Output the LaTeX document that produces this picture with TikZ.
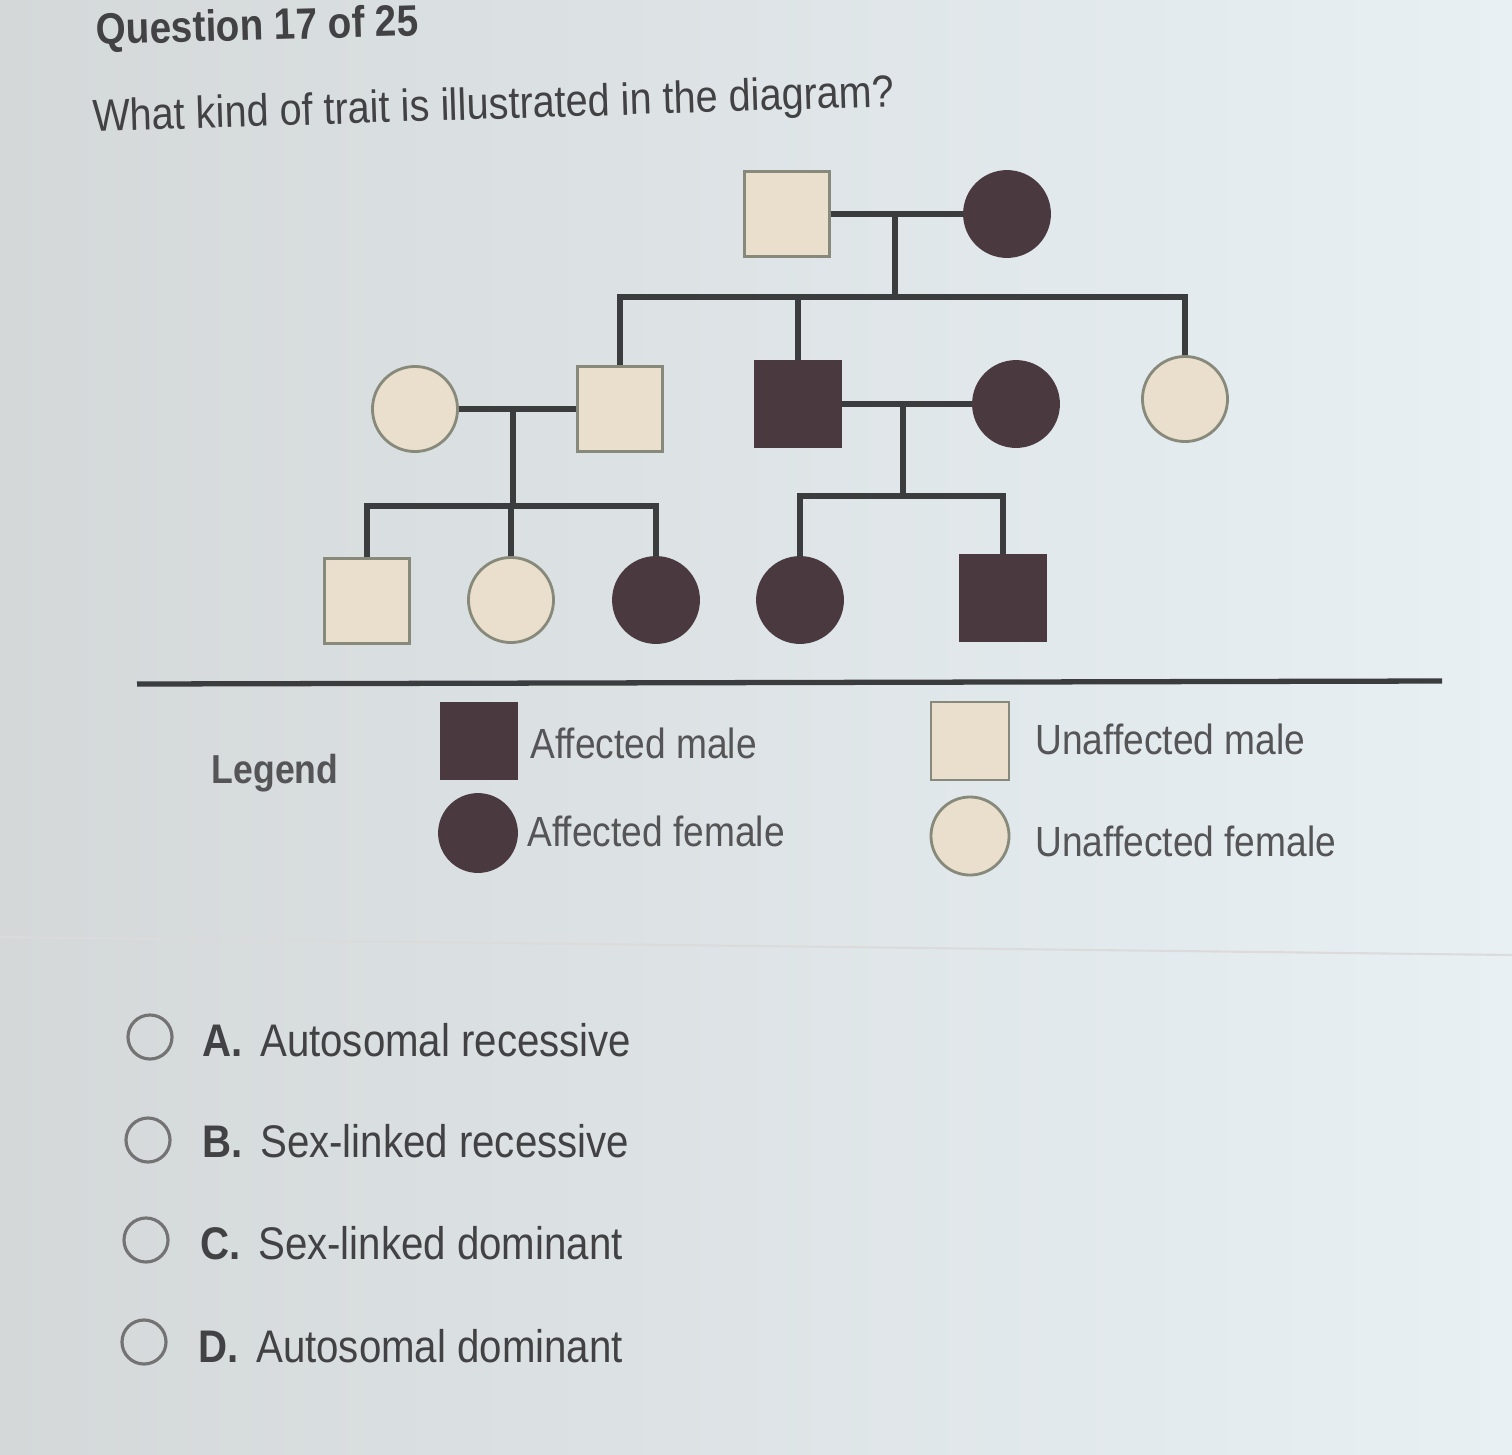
\documentclass[tikz,border=0pt]{standalone}
\usepackage{fontspec}
\setmainfont{Liberation Sans}[FakeStretch=0.88]
\usetikzlibrary{positioning,calc}

\definecolor{bgleft}{RGB}{212,216,217}
\definecolor{bgright}{RGB}{232,240,244}
\definecolor{affect}{RGB}{74,58,64}
\definecolor{unaff}{RGB}{234,222,204}
\definecolor{rim}{RGB}{135,137,122}
\definecolor{pline}{RGB}{58,60,62}
\definecolor{ink}{RGB}{66,66,68}

\begin{document}
\begin{tikzpicture}[x=0.01cm, y=-0.01cm,
    male/.style={rectangle, inner sep=0pt, minimum size=#1, line width=0.8pt},
    male/.default=0.85cm,
    female/.style={circle, inner sep=0pt, minimum size=#1, line width=0.8pt},
    female/.default=0.85cm,
    aff/.style={fill=affect, draw=affect},
    unaff/.style={fill=unaff, draw=rim},
    link/.style={draw=pline, line width=1.6pt},
    legtext/.style={anchor=west, text=ink!90, font=\fontsize{12}{14}\selectfont},
    answer/.style={anchor=west, text=ink, font=\fontsize{13}{15}\selectfont},
    radio/.style={circle, draw=black!55, line width=0.9pt, minimum size=0.44cm, inner sep=0pt}]
            % Background
            \useasboundingbox (0,0) rectangle (1512,1454);
            \shade[left color=bgleft, right color=bgright] (0,0) rectangle (1512,1454);
            
            % Question
            \node[anchor=base west, rotate=1.6, text=ink, font=\bfseries\fontsize{12.5}{15}\selectfont] (qnum) at (84,45) {Question 17 of 25};
            \node[anchor=base west, rotate=1.8, text=ink, font=\fontsize{12.8}{15}\selectfont] (qtext) at (81,132) {What kind of trait is illustrated in the diagram?};
            
            % Generation I
            \node[male, unaff] (gpa) at (787,214) {};
            \node[female, aff] (gma) at (1007,214) {};
            % Generation II
            \node[female, unaff] (mom1) at (415,409) {};
            \node[male, unaff] (dad1) at (620,409) {};
            \node[male, aff] (uncle) at (798,404) {};
            \node[female, aff] (wife2) at (1016,404) {};
            \node[female, unaff] (aunt) at (1185,399) {};
            % Generation III
            \node[male, unaff] (c1) at (367,601) {};
            \node[female, unaff] (c2) at (511,600) {};
            \node[female, aff] (c3) at (656,600) {};
            \node[female, aff] (c4) at (800,600) {};
            \node[male, aff] (c5) at (1003,598) {};
            
            % Couples and sibships
            \coordinate (mar1) at (895,214);
            \coordinate (sib1) at (895,297);
            \coordinate (mar2) at (513,409);
            \coordinate (sib2) at (513,506);
            \coordinate (mar3) at (903,404);
            \coordinate (sib3) at (903,496);
            
            \draw[link] (gpa.east) -- (gma.west);
            \draw[link] (mar1) -- (sib1);
            \draw[link] (dad1.north) |- (sib1) -| (aunt.north);
            \draw[link] (uncle.north) -- (uncle.north |- sib1);
            
            \draw[link] (mom1.east) -- (dad1.west);
            \draw[link] (mar2) -- (sib2);
            \draw[link] (c1.north) |- (sib2) -| (c3.north);
            \draw[link] (c2.north) -- (c2.north |- sib2);
            
            \draw[link] (uncle.east) -- (wife2.west);
            \draw[link] (mar3) -- (sib3);
            \draw[link] (c4.north) |- (sib3) -| (c5.north);
            
            % Divider
            \draw[pline, line width=1.5pt] (137,684) -- (1442,681);
            
            % Legend
            \node[text=ink!90, font=\bfseries\fontsize{11.5}{14}\selectfont] (leg) at (275,773) {Legend};
            \node[male=0.76cm, aff] (lam) at (479,741) {};
            \node[female=0.77cm, aff] (laf) at (478,833) {};
            \node[male=0.78cm, unaff] (lum) at (970,741) {};
            \node[female=0.78cm, unaff] (luf) at (970,836) {};
            \node[legtext] (tam) at (518,743) {Affected male};
            \node[legtext] (taf) at (515,831) {Affected female};
            \node[legtext] (tum) at (1023,739) {Unaffected male};
            \node[legtext] (tuf) at (1023,841) {Unaffected female};
            
            % Answer choices
            \draw[black!14, line width=0.6pt] (0,937) -- (1512,955);
            \node[radio] (ra) at (150,1037) {};
            \node[radio] (rb) at (148,1140) {};
            \node[radio] (rc) at (146,1240) {};
            \node[radio] (rd) at (144,1342) {};
            \node[answer] (oa) at (190,1040) {\textbf{A.}\hspace{5pt}Autosomal recessive};
            \node[answer] (ob) at (190,1141) {\textbf{B.}\hspace{5pt}Sex-linked recessive};
            \node[answer] (oc) at (188,1243) {\textbf{C.}\hspace{5pt}Sex-linked dominant};
            \node[answer] (od) at (186,1346) {\textbf{D.}\hspace{5pt}Autosomal dominant};
        \end{tikzpicture}
\end{document}
